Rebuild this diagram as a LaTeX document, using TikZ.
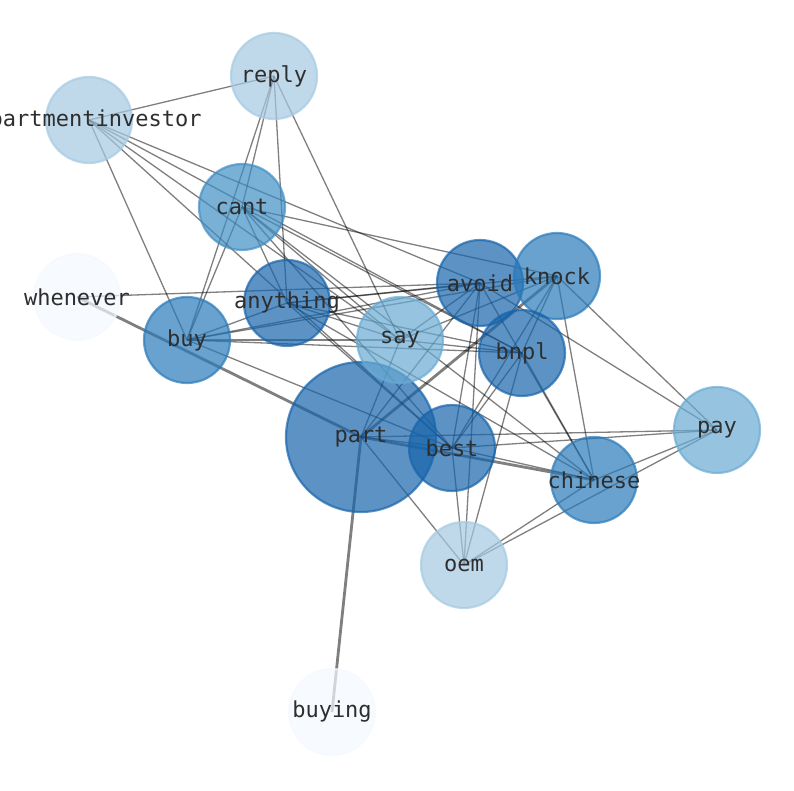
\documentclass[tikz,border=0pt]{standalone}
\usepackage{fontspec}
\newfontfamily\labelfont{DejaVu Sans Mono}
\pgfdeclarelayer{background}
\pgfsetlayers{background,main}
\definecolor{cDark}{HTML}{1764AB}
\definecolor{cMid}{HTML}{2A7AB9}
\definecolor{cCant}{HTML}{408EC4}
\definecolor{cSay}{HTML}{69ABD3}
\definecolor{cLight}{HTML}{A5C9E1}
\definecolor{cPale}{HTML}{F4F8FE}
\definecolor{txt}{HTML}{2E2E2E}
\tikzset{
  wnode/.style={circle, inner sep=0pt, minimum size=86pt, line width=2.2pt,
    fill opacity=0.7, draw opacity=0.7, text opacity=1, text=txt,
    font=\labelfont\fontsize{22}{25}\selectfont},
  bignode/.style={wnode, minimum size=150pt},
  wedge/.style={draw=black, draw opacity=0.5, line width=1.3pt},
  tedge/.style={draw=black, draw opacity=0.5, line width=2.8pt},
}
\newcommand{\lbl}[1]{\raisebox{-1.5pt}{\makebox[0pt]{#1}}}
\begin{document}
\begin{tikzpicture}[x=1pt,y=1pt]
\useasboundingbox (0,0) rectangle (794,790);
\clip (0,0) rectangle (794,790);
% nodes
\node[bignode, fill=cDark, draw=cDark] (part) at (361,353) {\lbl{part}};
\node[wnode, fill=cLight, draw=cLight] (reply) at (274,714) {\lbl{reply}};
\node[wnode, fill=cLight, draw=cLight] (apt) at (89,670) {\lbl{apartmentinvestor}};
\node[wnode, fill=cCant, draw=cCant] (cant) at (242,583) {\lbl{cant}};
\node[wnode, fill=cPale, draw=cPale] (whenever) at (77,493) {\lbl{whenever}};
\node[wnode, fill=cDark, draw=cDark] (anything) at (287,487) {\lbl{anything}};
\node[wnode, fill=cMid, draw=cMid] (buy) at (187,450) {\lbl{buy}};
\node[wnode, fill=cSay, draw=cSay] (say) at (400,450) {\lbl{say}};
\node[wnode, fill=cDark, draw=cDark] (avoid) at (480,507) {\lbl{avoid}};
\node[wnode, fill=cMid, draw=cMid] (knock) at (557,514) {\lbl{knock}};
\node[wnode, fill=cDark, draw=cDark] (bnpl) at (522,437) {\lbl{bnpl}};
\node[wnode, fill=cDark, draw=cDark] (best) at (452,342) {\lbl{best}};
\node[wnode, fill=cMid, draw=cMid] (chinese) at (594,310) {\lbl{chinese}};
\node[wnode, fill=cSay, draw=cSay] (pay) at (717,360) {\lbl{pay}};
\node[wnode, fill=cLight, draw=cLight] (oem) at (464,225) {\lbl{oem}};
\node[wnode, fill=cPale, draw=cPale] (buying) at (332,78) {\lbl{buying}};
% edges
\begin{pgfonlayer}{background}
\foreach \a/\b in {apt/reply, apt/buy, apt/avoid, apt/bnpl, apt/say, apt/best,
  reply/cant, reply/buy, reply/anything, reply/say,
  cant/buy, cant/anything, cant/say, cant/bnpl, cant/best, cant/chinese, cant/knock,
  whenever/avoid,
  buy/anything, buy/avoid, buy/knock, buy/say, buy/bnpl, buy/best,
  anything/avoid, anything/knock, anything/bnpl, anything/say, anything/best, anything/chinese,
  say/avoid, say/bnpl, say/part, say/knock,
  avoid/part, avoid/best, avoid/chinese, avoid/pay, avoid/oem,
  knock/bnpl, knock/best, knock/chinese, knock/pay,
  bnpl/best, bnpl/oem, bnpl/chinese,
  part/best, part/pay, part/oem,
  best/chinese, best/pay, best/oem,
  chinese/pay, chinese/oem, pay/oem}
  \draw[wedge] (\a.center) -- (\b.center);
\foreach \a/\b in {whenever/part, buying/part, part/knock, part/chinese}
  \draw[tedge] (\a.center) -- (\b.center);
\end{pgfonlayer}
\end{tikzpicture}
\end{document}
